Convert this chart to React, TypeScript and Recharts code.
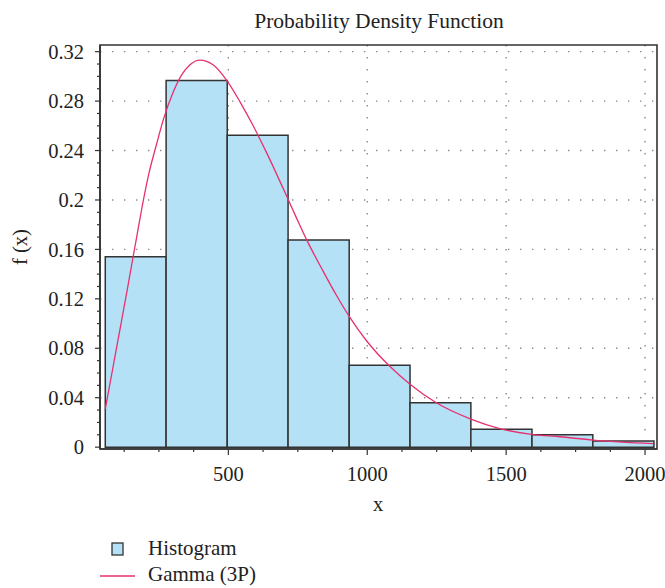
import React from 'react';
import {
  ComposedChart,
  Line,
  XAxis,
  YAxis,
  CartesianGrid,
  ReferenceArea,
} from 'recharts';

// Histogram bins (bin edges in x units, densities per bin)
const binEdges = [57, 276, 496, 715, 935, 1154, 1373, 1593, 1812, 2032];
const binHeights = [0.154, 0.2967, 0.2523, 0.1677, 0.0663, 0.036, 0.0144, 0.01, 0.0049];

// Gamma (3P) fitted curve
const curveX = [
  57, 81, 101, 117, 137, 154, 170, 188, 212, 242, 266, 302, 332, 362, 398, 446, 496,
  542, 590, 638, 698, 746, 782, 842, 890, 935, 998, 1082, 1154, 1250, 1373, 1477,
  1591, 1693, 1813, 2029,
];
const curveF = [
  0.031, 0.06, 0.0845, 0.104, 0.1285, 0.15, 0.17, 0.1925, 0.2195, 0.2455, 0.265,
  0.2875, 0.3012, 0.3095, 0.3132, 0.3092, 0.2962, 0.2794, 0.2598, 0.2381, 0.209,
  0.1851, 0.1677, 0.142, 0.1225, 0.1058, 0.0859, 0.0652, 0.0509, 0.0357, 0.0227,
  0.015, 0.0104, 0.0084, 0.0057, 0.0028,
];

// Axis ticks
const xMajorTicks = [500, 1000, 1500, 2000];
const xAllTicks = [125, 250, 375, 500, 625, 750, 875, 1000, 1125, 1250, 1375, 1500, 1625, 1750, 1875, 2000];
const yMajorTicks = [0, 0.04, 0.08, 0.12, 0.16, 0.2, 0.24, 0.28, 0.32];
const yAllTicks = [
  0, 0.01, 0.02, 0.03, 0.04, 0.05, 0.06, 0.07, 0.08, 0.09, 0.1, 0.11, 0.12, 0.13, 0.14,
  0.15, 0.16, 0.17, 0.18, 0.19, 0.2, 0.21, 0.22, 0.23, 0.24, 0.25, 0.26, 0.27, 0.28,
  0.29, 0.3, 0.31, 0.32,
];

const xDomain = [38, 2043];
const yDomain = [-0.0015, 0.3254];

const FONT = "'Liberation Serif', 'DejaVu Serif', serif";
const TEXT = '#222';
const AXIS = '#333';
const BAR_FILL = '#b5e1f7';
const CURVE = '#e8306e';

const curveData = curveX.map((x, i) => ({ x, f: curveF[i] }));

const YTick = (props: any) => {
  const { x, y, payload } = props;
  const major = yMajorTicks.includes(payload.value);
  return (
    <g>
      <line x1={x - (major ? 5 : 3)} x2={x} y1={y} y2={y} stroke={AXIS} strokeWidth={1.2} />
      {major && (
        <text
          x={x - 16}
          y={y}
          dy="0.35em"
          textAnchor="end"
          fontFamily={FONT}
          fontSize={20.5}
          fill={TEXT}
        >
          {String(payload.value)}
        </text>
      )}
    </g>
  );
};

const XTick = (props: any) => {
  const { x, y, payload } = props;
  const major = xMajorTicks.includes(payload.value);
  return (
    <g>
      <line x1={x} x2={x} y1={y + 1} y2={y + (major ? 6 : 3)} stroke={AXIS} strokeWidth={1.2} />
      {major && (
        <text x={x} y={y + 32} textAnchor="middle" fontFamily={FONT} fontSize={20.5} fill={TEXT}>
          {String(payload.value)}
        </text>
      )}
    </g>
  );
};

export default function App() {
  return (
    <div style={{ position: 'absolute', left: 0, top: 0, width: 665, height: 588, background: '#fff' }}>
      <ComposedChart
        width={665}
        height={588}
        data={curveData}
        margin={{ top: 45, right: 8, bottom: 79, left: 0 }}
      >
        <CartesianGrid
          xAxisId="main"
          yAxisId="main"
          verticalValues={xMajorTicks}
          horizontalValues={yMajorTicks.slice(1)}
          stroke="#8a8a8a"
          strokeWidth={1.4}
          strokeDasharray="1.4 10.6"
        />
        <XAxis
          xAxisId="main"
          type="number"
          dataKey="x"
          domain={xDomain}
          ticks={xAllTicks}
          interval={0}
          allowDataOverflow
          height={60}
          tickSize={0}
          tickMargin={0}
          tickLine={false}
          tick={<XTick />}
          axisLine={{ stroke: AXIS, strokeWidth: 1.6 }}
        />
        <YAxis
          yAxisId="main"
          type="number"
          domain={yDomain}
          ticks={yAllTicks}
          interval={0}
          allowDataOverflow
          width={100}
          tickSize={0}
          tickMargin={0}
          tickLine={false}
          tick={<YTick />}
          axisLine={{ stroke: AXIS, strokeWidth: 1.6 }}
        />
        {binHeights.map((h, i) => (
          <ReferenceArea
            key={i}
            xAxisId="main"
            yAxisId="main"
            x1={binEdges[i]}
            x2={binEdges[i + 1]}
            y1={0}
            y2={h}
            fill={BAR_FILL}
            fillOpacity={1}
            stroke={AXIS}
            strokeWidth={1.5}
          />
        ))}
        <ReferenceArea
          xAxisId="main"
          yAxisId="main"
          x1={xDomain[0]}
          x2={xDomain[1]}
          y1={yDomain[0]}
          y2={yDomain[1]}
          fill="none"
          fillOpacity={0}
          stroke={AXIS}
          strokeWidth={1.6}
        />
        <Line
          xAxisId="main"
          yAxisId="main"
          type="monotone"
          dataKey="f"
          stroke={CURVE}
          strokeWidth={1.3}
          dot={false}
          activeDot={false}
          isAnimationActive={false}
        />
      </ComposedChart>
      <svg
        width={665}
        height={588}
        style={{ position: 'absolute', left: 0, top: 0, pointerEvents: 'none' }}
      >
        <text x={379} y={28} textAnchor="middle" fontFamily={FONT} fontSize={21.5} fill={TEXT}>
          Probability Density Function
        </text>
        <text
          x={0}
          y={0}
          transform="translate(27,247) rotate(-90)"
          textAnchor="middle"
          fontFamily={FONT}
          fontSize={20.5}
          fill={TEXT}
        >
          f (x)
        </text>
        <text x={378} y={511} textAnchor="middle" fontFamily={FONT} fontSize={20.5} fill={TEXT}>
          x
        </text>
        <rect x={112} y={543} width={11} height={12} fill={BAR_FILL} stroke={AXIS} strokeWidth={1.3} />
        <text x={148} y={555} fontFamily={FONT} fontSize={21} fill={TEXT}>
          Histogram
        </text>
        <line x1={100} x2={135} y1={576} y2={576} stroke={CURVE} strokeWidth={1.3} />
        <text x={148} y={581} fontFamily={FONT} fontSize={21} fill={TEXT}>
          Gamma (3P)
        </text>
      </svg>
    </div>
  );
}
